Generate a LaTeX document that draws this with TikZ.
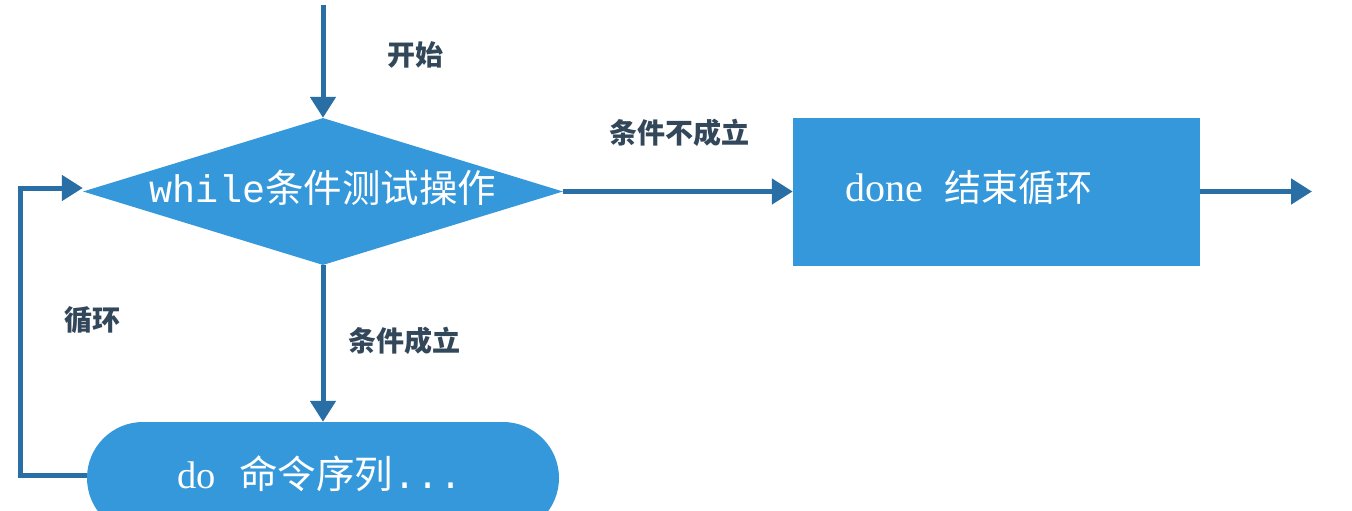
\documentclass[tikz,border=0pt]{standalone}
\usepackage{fontspec}
\setmainfont{Liberation Serif}
\setmonofont{Liberation Mono}
\newfontfamily\cjk{Noto Sans CJK SC}
\usetikzlibrary{arrows.meta,shapes.geometric}
\definecolor{boxblue}{HTML}{3598DB}
\definecolor{arrowblue}{HTML}{2A6EA6}
\definecolor{labelgray}{HTML}{33475B}
\tikzset{
  flow/.style={draw=arrowblue, line width=5pt, -{Triangle[width=25pt,length=21pt]}},
  lbl/.style={text=labelgray, font=\cjk\bfseries\fontsize{28}{32}\selectfont, inner sep=0pt},
  wtext/.style={text=white, inner sep=0pt},
}
\begin{document}
\begin{tikzpicture}[x=1pt,y=-1pt]
\useasboundingbox (0,0) rectangle (1352,511);
\clip (0,0) rectangle (1352,511);
\fill[white] (0,0) rectangle (1352,511);
% shapes
\node[diamond, fill=boxblue, minimum width=480pt, minimum height=147pt, inner sep=0pt] (dia) at (323,191.5) {};
\node[wtext, font=\fontsize{38.5}{42}\selectfont] (diat) at (323,188) {\ttfamily while\cjk 条件测试操作};
\node[rectangle, fill=boxblue, minimum width=407pt, minimum height=148pt, inner sep=0pt] (done) at (996.5,191.5) {};
\node[wtext, font=\fontsize{37}{42}\selectfont] (donet) at (969,188) {{\fontsize{40}{42}\selectfont done}\hspace{0.55em}\cjk 结束循环};
\node[rectangle, rounded corners=56pt, fill=boxblue, minimum width=472pt, minimum height=112pt, inner sep=0pt] (pill) at (323,478) {};
\node[wtext, font=\fontsize{38.5}{42}\selectfont] (pillt) at (320,474) {do\hspace{0.6em}{\cjk 命令序列}{\ttfamily ...}};
% coordinates
\coordinate (start) at (323,5);
\coordinate (endp) at (1312,191);
\coordinate (lb) at (20,475);
\coordinate (lt) at (20,188);
% connectors
\draw[flow] (start) -- (dia.north);
\draw[flow] (dia.east) -- (done.west);
\draw[flow] (done.east) -- (done.east -| endp);
\draw[flow] (dia.south) -- (pill.north);
\draw[flow] (pill.west |- lb) -- (lb) -- (lt) -- (dia.west |- lt);
% labels
\node[lbl] (l1) at (415,55) {开始};
\node[lbl] (l2) at (679,133) {条件不成立};
\node[lbl] (l3) at (404,341) {条件成立};
\node[lbl] (l4) at (92,320) {循环};
\end{tikzpicture}
\end{document}
